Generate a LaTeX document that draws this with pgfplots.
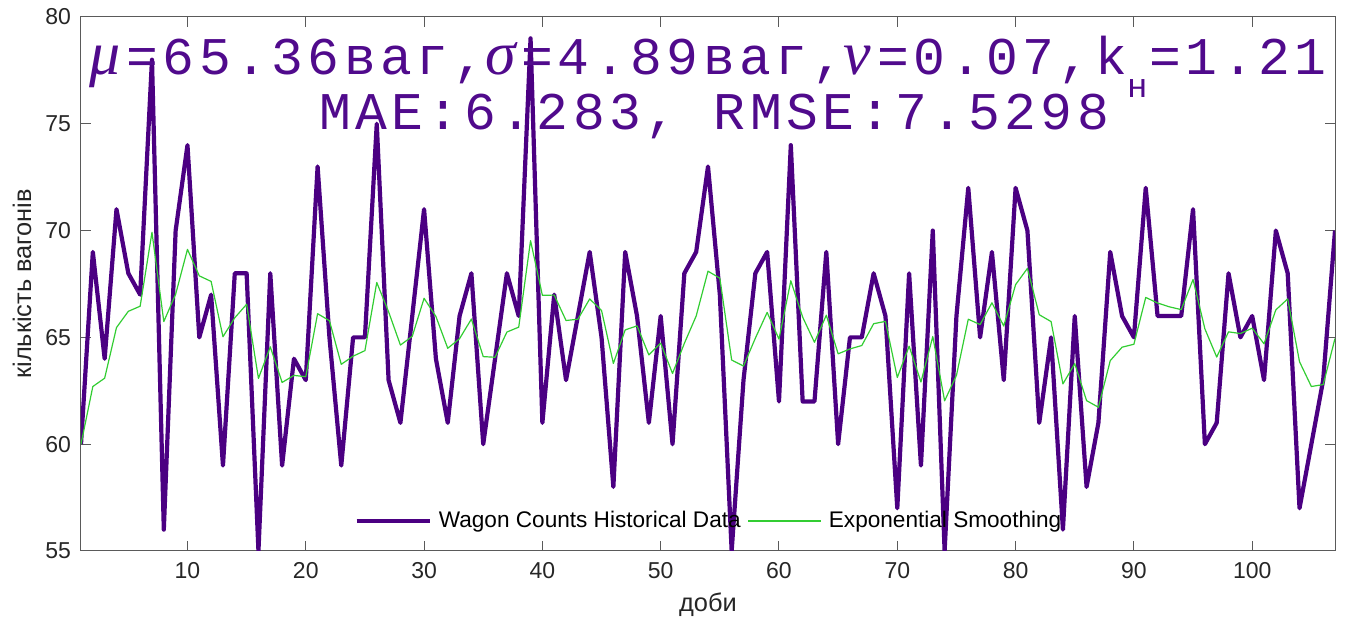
\documentclass[border=0pt]{standalone}
\usepackage{pgfplots}
\pgfplotsset{compat=1.18}
\usepackage{pgfplotstable}
\usepackage{fontspec}
\setmainfont{Liberation Sans}
\newfontfamily\monofont[LetterSpace=8.5]{Liberation Mono}
\newfontfamily\greekfont{Liberation Serif}
\definecolor{wagon}{RGB}{75,0,130}
\definecolor{smoothgreen}{RGB}{50,205,50}
\definecolor{titlecol}{RGB}{80,10,140}
\definecolor{axline}{RGB}{90,90,90}
\definecolor{labcol}{RGB}{38,38,38}
\newcommand{\gk}[1]{{\greekfont\itshape\fontsize{31}{31}\selectfont #1}\hspace{3pt}}

\pgfplotstableread{
x y s
1 60 60.00
2 69 62.70
3 64 63.09
4 71 65.46
5 68 66.22
6 67 66.46
7 78 69.92
8 56 65.74
9 70 67.02
10 74 69.12
11 65 67.88
12 67 67.62
13 59 65.03
14 68 65.92
15 68 66.55
16 55 63.08
17 68 64.56
18 59 62.89
19 64 63.22
20 63 63.16
21 73 66.11
22 65 65.78
23 59 63.74
24 65 64.12
25 65 64.38
26 75 67.57
27 63 66.20
28 61 64.64
29 66 65.05
30 71 66.83
31 64 65.98
32 61 64.49
33 66 64.94
34 68 65.86
35 60 64.10
36 64 64.07
37 68 65.25
38 66 65.48
39 79 69.53
40 61 66.97
41 67 66.98
42 63 65.79
43 66 65.85
44 69 66.80
45 65 66.26
46 58 63.78
47 69 65.35
48 66 65.54
49 61 64.18
50 66 64.73
51 60 63.31
52 68 64.72
53 69 66.00
54 73 68.10
55 67 67.77
56 55 63.94
57 63 63.66
58 68 64.96
59 69 66.17
60 62 64.92
61 74 67.65
62 62 65.95
63 62 64.77
64 69 66.04
65 60 64.23
66 65 64.46
67 65 64.62
68 68 65.64
69 66 65.75
70 57 63.12
71 68 64.59
72 59 62.91
73 70 65.04
74 55 62.03
75 66 63.22
76 72 65.85
77 65 65.60
78 69 66.62
79 63 65.53
80 72 67.47
81 70 68.23
82 61 66.06
83 65 65.74
84 56 62.82
85 66 63.77
86 58 62.04
87 61 61.73
88 69 63.91
89 66 64.54
90 65 64.68
91 72 66.87
92 66 66.61
93 66 66.43
94 66 66.30
95 71 67.71
96 60 65.40
97 61 64.08
98 68 65.26
99 65 65.18
100 66 65.43
101 63 64.70
102 70 66.29
103 68 66.80
104 57 63.86
105 60 62.70
106 63 62.79
107 70 64.95
}\data

\begin{document}
\begin{tikzpicture}
\begin{axis}[
  scale only axis,
  width=627pt, height=267pt,
  xmin=1, xmax=107, ymin=55, ymax=80,
  xtick={10,20,...,100},
  ytick={55,60,...,80},
  tick align=inside,
  major tick length=5pt,
  axis line style={axline, line width=0.5pt},
  every tick/.style={axline, line width=0.5pt},
  /pgf/number format/assume math mode=true,
  ticklabel style={font=\fontsize{11.5}{12}\selectfont, text=labcol},
  xticklabel style={yshift=-2pt},
  yticklabel style={xshift=-1.5pt},
  xlabel={доби},
  ylabel={кількість вагонів},
  label style={font=\fontsize{12.7}{14}\selectfont, text=labcol},
  xlabel style={at={(axis description cs:0.5,0)}, anchor=center, yshift=-27pt},
  ylabel style={at={(axis description cs:0,0.5)}, anchor=center, yshift=29.5pt},
  legend columns=2,
  legend style={at={(0.5,0)}, anchor=center, yshift=15pt, draw=none, fill=none,
    font=\fontsize{11.3}{12}\selectfont, column sep=3.5pt, nodes={inner sep=0pt}},
  legend image code/.code={\draw[#1] (0pt,0pt) -- (36.5pt,0pt);},
]
\addplot[wagon, line width=2.1pt, line join=round] table[x=x, y=y]{\data};
\addlegendentry{Wagon Counts Historical Data}
\addplot[smoothgreen, line width=0.6pt, line join=round] table[x=x, y=s]{\data};
\addlegendentry{Exponential Smoothing}
\end{axis}
\node[anchor=base, inner sep=0pt, text=titlecol, font=\monofont\fontsize{26.5}{26.5}\selectfont]
  at ([yshift=-29pt]current axis.north)
  {\gk{μ}=65.36ваг,\gk{σ}=4.89ваг,\gk{ν}=0.07,k\raisebox{-11.5pt}{\fontsize{17}{17}\selectfont н}\hspace{1pt}=1.21};
\node[anchor=base, inner sep=0pt, text=titlecol, font=\monofont\fontsize{26.5}{26.5}\selectfont]
  at ([yshift=-56.5pt, xshift=3pt]current axis.north)
  {MAE:6.283, RMSE:7.5298};
\pgfresetboundingbox
\path (current axis.south west) ++(-40.5pt,-33.5pt) coordinate (bl);
\path (current axis.north east) ++(6pt,8.5pt) coordinate (tr);
\useasboundingbox (bl) rectangle (tr);
\end{tikzpicture}
\end{document}
